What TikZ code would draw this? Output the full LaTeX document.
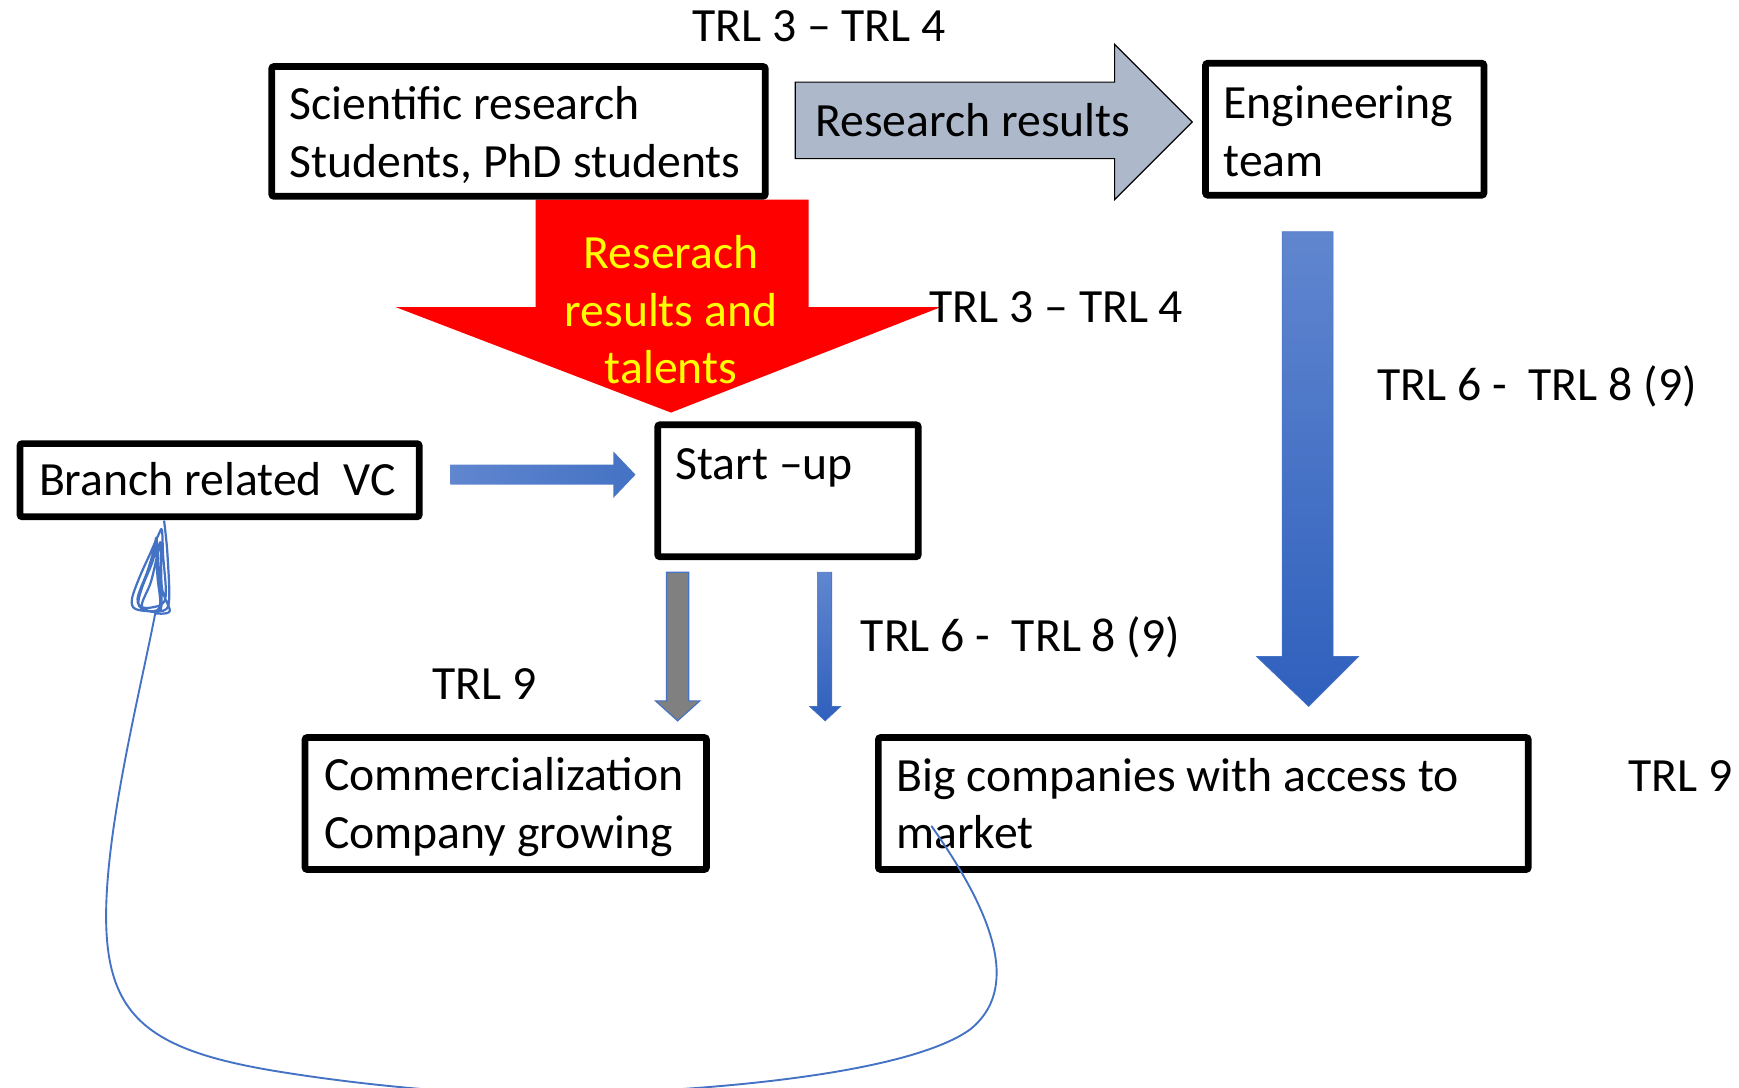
\documentclass[tikz,border=0pt]{standalone}
\usepackage{fontspec}
\setmainfont{Carlito}
\definecolor{grayarrow}{RGB}{173,185,202}
\definecolor{bluelight}{RGB}{96,134,207}
\definecolor{bluedark}{RGB}{47,96,189}
\definecolor{bluemid}{RGB}{68,114,196}
\definecolor{blueline}{RGB}{68,114,196}
\definecolor{midgray}{RGB}{128,128,128}
\definecolor{pureyellow}{RGB}{255,255,0}
\begin{document}
\begin{tikzpicture}[x=1pt,y=-1pt,
  box/.style={draw=black, line width=6pt, rounded corners=2pt, fill=white, anchor=north west, inner sep=0pt},
  txt/.style={anchor=base west, inner sep=0pt, font=\fontsize{43}{52}\selectfont},
  ctxt/.style={anchor=base, inner sep=0pt, font=\fontsize{43}{52}\selectfont},
  curve/.style={draw=blueline, line width=1.7pt, line cap=round, line join=round}]
\useasboundingbox (0,0) rectangle (1568,981);
\clip (0,0) rectangle (1568,981);

% red block arrow
\fill[red] (483,180) -- (729,180) -- (729,277) -- (848,277) -- (605,372) -- (357,277) -- (483,277) -- cycle;

% boxes (outer edges at the given corner, size minus line width)
\node[box, minimum width=445pt, minimum height=117pt] (sci) at (242,57) {};
\node[box, minimum width=251pt, minimum height=119pt] (eng) at (1084,54) {};
\node[box, minimum width=360pt, minimum height=66pt] (vc) at (15,397) {};
\node[box, minimum width=235pt, minimum height=119pt] (start) at (590,380) {};
\node[box, minimum width=362pt, minimum height=119pt] (comm) at (272,662) {};
\node[box, minimum width=586pt, minimum height=119pt] (big) at (789,662) {};

% grey block arrow
\filldraw[fill=grayarrow, draw=black, line width=1pt] (717,74) -- (1005,74) -- (1005,40) -- (1075,110) -- (1005,180) -- (1005,143) -- (717,143) -- cycle;

% big blue arrow
\shade[top color=bluelight, bottom color=bluedark] (1156,209) -- (1202,209) -- (1202,592) -- (1225,592) -- (1180,637) -- (1133,592) -- (1156,592) -- cycle;
\draw[blueline, line width=0.6pt] (1156,209) -- (1202,209) -- (1202,592) -- (1225,592) -- (1180,637) -- (1133,592) -- (1156,592) -- cycle;

% horizontal blue arrow
\shade[left color=bluelight, right color=bluemid] (406,419) -- (553,419) -- (553,407) -- (573,428) -- (553,449) -- (553,437) -- (406,437) -- cycle;

% grey down arrow
\filldraw[fill=midgray, draw=blueline, line width=1pt] (601,516) -- (621,516) -- (621,632) -- (631,632) -- (611,650) -- (591,632) -- (601,632) -- cycle;

% thin blue down arrow
\shade[top color=bluelight, bottom color=bluedark] (737,516) -- (750,516) -- (750,637) -- (758,637) -- (744,650) -- (730,637) -- (737,637) -- cycle;
\draw[blueline, line width=0.6pt] (737,516) -- (750,516) -- (750,637) -- (758,637) -- (744,650) -- (730,637) -- (737,637) -- cycle;

% texts
\node[txt] (trlA) at (624,37) {TRL 3 – TRL 4};
\node[txt] (sci1) at (261,108) {Scientific research};
\node[txt] (sci2) at (261,160) {Students, PhD students};
\node[txt] (res) at (735,123) {Research results};
\node[txt] (eng1) at (1103,107) {Engineering};
\node[txt] (eng2) at (1103,159) {team};
\node[ctxt, text=pureyellow] (red1) at (605,242) {Reserach};
\node[ctxt, text=pureyellow] (red2) at (605,294) {results and};
\node[ctxt, text=pureyellow] (red3) at (605,346) {talents};
\node[txt] (trlB) at (838,291) {TRL 3 – TRL 4};
\node[txt] (trlC) at (1242,361) {TRL 6 -\ \ TRL 8 (9)};
\node[txt] (vct) at (35,447) {Branch related\ \ VC};
\node[txt] (st) at (609,432) {Start –up};
\node[txt] (trlD) at (776,587) {TRL 6 -\ \ TRL 8 (9)};
\node[txt] (trlE) at (390,631) {TRL 9};
\node[txt] (comm1) at (292,713) {Commercialization};
\node[txt] (comm2) at (292,765) {Company growing};
\node[txt] (big1) at (808,714) {Big companies with access to};
\node[txt] (big2) at (808,765) {market};
\node[txt] (trlF) at (1468,714) {TRL 9};

% hand-drawn curve
\coordinate (cs) at (148,470);
\coordinate (ce) at (840,745);
\draw[curve, line width=2pt] plot[smooth, tension=0.55] coordinates {(cs) (151,500) (152,545) (140,551) (122,549) (119,540) (126,520) (135,500) (143,482) (146,478) (147,500) (149,540) (135,548) (125,545) (128,530) (138,505) (140,490) (142,520) (144,548) (130,550) (124,540) (133,515) (139,495) (141,485) (143,510) (145,549) (128,547) (136,525) (142,500) (145,490) (146,530) (153,551) (140,553)};
\draw[curve] (140,553) .. controls (125,630) and (92,760) .. (96,840)
  .. controls (100,920) and (140,948) .. (250,966)
  .. controls (330,979) and (420,987) .. (490,987)
  .. controls (640,985) and (820,968) .. (875,928)
  .. controls (918,893) and (900,830) .. (ce);
\end{tikzpicture}
\end{document}
